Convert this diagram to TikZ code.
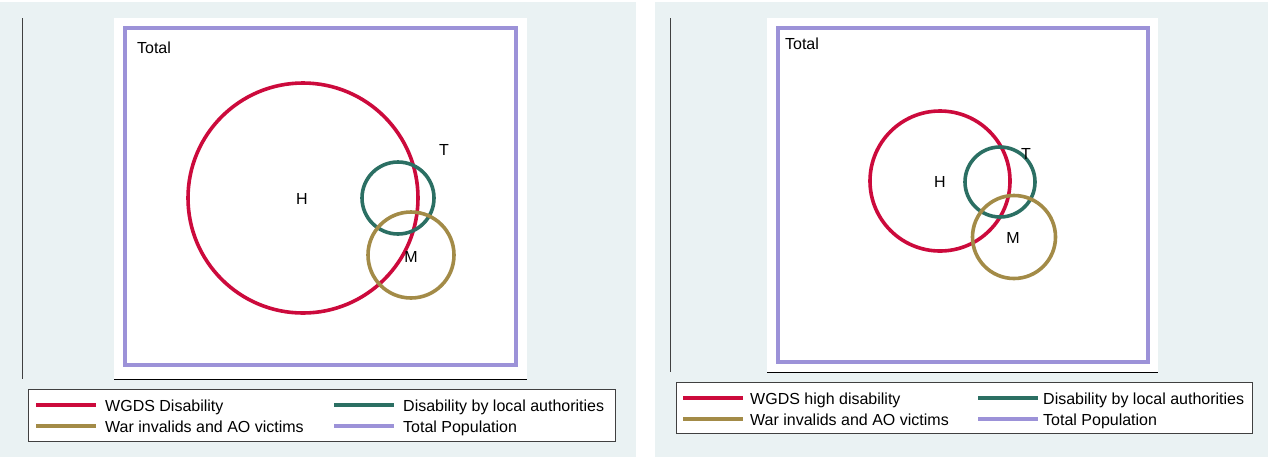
\documentclass[tikz,border=0pt]{standalone}
\usepackage{fontspec}
\setmainfont{Liberation Sans}
\definecolor{bgc}{HTML}{EAF2F3}
\definecolor{cred}{HTML}{CC0A3C}
\definecolor{cgreen}{HTML}{2B6F63}
\definecolor{cgold}{HTML}{A38B47}
\definecolor{cpurp}{HTML}{9C92D8}
\definecolor{axisc}{HTML}{404040}
\begin{document}
\begin{tikzpicture}[x=1pt,y=-1pt,
  font=\fontsize{16}{19}\selectfont,
  venn/.style={circle, draw, line width=3.6pt, inner sep=0pt, outer sep=0pt},
  lbl/.style={inner sep=0pt},
  frame/.style={draw=cpurp, line width=3.2pt, inner sep=0pt, outer sep=0pt},
  keyline/.style={line width=4pt},
  keytext/.style={anchor=base west, inner sep=0pt},
  keybox/.style={draw=black!75, line width=0.9pt, fill=white},
  axisline/.style={draw=axisc, line width=1pt}]
\useasboundingbox (0,0) rectangle (1271,459);
\fill[white] (0,0) rectangle (1271,459);
% panel backgrounds
\fill[bgc] (0,2) rectangle (636,457);
\fill[bgc] (655,2) rectangle (1268,457);
% plot regions
\fill[white] (114,18) rectangle (527,379);
\fill[white] (767,18) rectangle (1158,372);

% ---------- left panel ----------
\coordinate (ay1) at (22,18);
\coordinate (ay2) at (22,379);
\draw[axisline] (ay1) -- (ay2);
\coordinate (ax1) at (114,379);
\coordinate (ax2) at (527,379);
\draw[black, line width=1pt] (ax1) -- (ax2);
\node[frame, minimum width=391pt, minimum height=337pt] (P1) at (320.5,196.5) {};
\node[lbl] (tot1) at (154,48) {Total};
\node[venn, draw=cred, minimum size=230pt] (H1) at (303,198) {};
\node[venn, draw=cgreen, minimum size=72pt] (T1) at (398,198) {};
\node[venn, draw=cgold, minimum size=86pt] (M1) at (411,255) {};
\node[lbl] (h1) at (302,199) {H};
\node[lbl] (t1) at (444,150) {T};
\node[lbl] (m1) at (411,257) {M};
% legend
\draw[keybox] (28,389) rectangle (615,441);
\coordinate (k1a) at (36,405); \coordinate (k1b) at (96,405);
\coordinate (k2a) at (334,405); \coordinate (k2b) at (394,405);
\coordinate (k3a) at (36,426); \coordinate (k3b) at (96,426);
\coordinate (k4a) at (334,426); \coordinate (k4b) at (394,426);
\draw[keyline, cred] (k1a) -- (k1b);
\draw[keyline, cgreen] (k2a) -- (k2b);
\draw[keyline, cgold] (k3a) -- (k3b);
\draw[keyline, cpurp] (k4a) -- (k4b);
\node[keytext] (e1) at (105,411) {WGDS Disability};
\node[keytext] (e2) at (403,411) {Disability by local authorities};
\node[keytext] (e3) at (105,432) {War invalids and AO victims};
\node[keytext] (e4) at (403,432) {Total Population};

% ---------- right panel ----------
\coordinate (by1) at (670,18);
\coordinate (by2) at (670,372);
\draw[axisline] (by1) -- (by2);
\coordinate (bx1) at (767,372);
\coordinate (bx2) at (1158,372);
\draw[black, line width=1pt] (bx1) -- (bx2);
\node[frame, minimum width=370pt, minimum height=334pt] (P2) at (963,195) {};
\node[lbl] (tot2) at (802,44) {Total};
\node[venn, draw=cred, minimum size=140pt] (H2) at (940,181) {};
\node[venn, draw=cgreen, minimum size=70pt] (T2) at (1000,182) {};
\node[venn, draw=cgold, minimum size=83pt] (M2) at (1014,237) {};
\node[lbl] (h2) at (940,182) {H};
\node[lbl] (t2) at (1026,154) {T};
\node[lbl] (m2) at (1013,238) {M};
% legend
\draw[keybox] (676,382) rectangle (1252,433);
\coordinate (q1a) at (683,398); \coordinate (q1b) at (743,398);
\coordinate (q2a) at (978,398); \coordinate (q2b) at (1038,398);
\coordinate (q3a) at (683,419); \coordinate (q3b) at (743,419);
\coordinate (q4a) at (978,419); \coordinate (q4b) at (1038,419);
\draw[keyline, cred] (q1a) -- (q1b);
\draw[keyline, cgreen] (q2a) -- (q2b);
\draw[keyline, cgold] (q3a) -- (q3b);
\draw[keyline, cpurp] (q4a) -- (q4b);
\node[keytext] (f1) at (750,404) {WGDS high disability};
\node[keytext] (f2) at (1043,404) {Disability by local authorities};
\node[keytext] (f3) at (750,425) {War invalids and AO victims};
\node[keytext] (f4) at (1043,425) {Total Population};
\end{tikzpicture}
\end{document}
